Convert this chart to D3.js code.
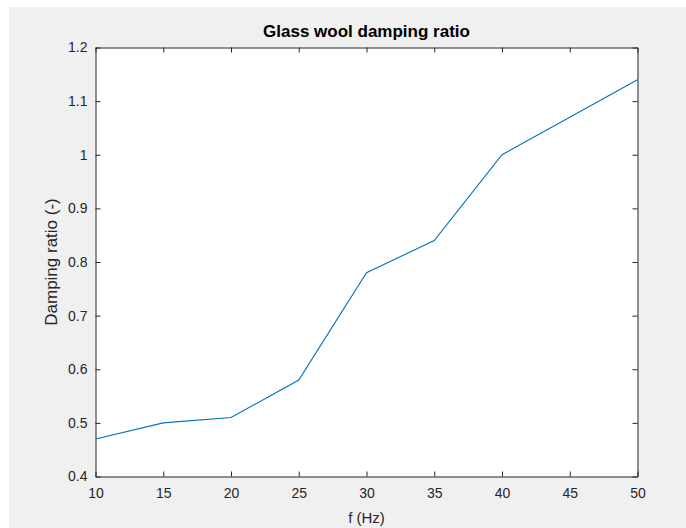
<!DOCTYPE html>
<html><head><meta charset="utf-8">
<script src="https://cdn.jsdelivr.net/npm/d3@7"></script>
<style>body{margin:0;background:#fff;}svg{display:block;}text{font-family:"Liberation Sans",Arial,sans-serif;}</style>
</head><body><svg id="c" width="686" height="528"></svg>
<script>
const freq = [10, 15, 20, 25, 30, 35, 40, 45, 50];
const damping = [0.47, 0.50, 0.51, 0.58, 0.78, 0.84, 1.00, 1.07, 1.14];
const xTicks = [10, 15, 20, 25, 30, 35, 40, 45, 50];
const yTicks = [0.4, 0.5, 0.6, 0.7, 0.8, 0.9, 1, 1.1, 1.2];
const title = "Glass wool damping ratio";
const xLabel = "f (Hz)";
const yLabel = "Damping ratio (-)";

const svg = d3.select("#c");
svg.append("rect").attr("x",9).attr("y",7).attr("width",677).attr("height",521).attr("fill","#f0f0f0");
const L=95.5,R=637.5,T=47.5,B=476.5;
const x = d3.scaleLinear().domain([10,50]).range([L,R]);
const y = d3.scaleLinear().domain([0.4,1.2]).range([B,T]);
svg.append("rect").attr("x",L).attr("y",T).attr("width",R-L).attr("height",B-T).attr("fill","#fff");

const col="#262626";
const fmt = d => String(d);
const gxB = svg.append("g").attr("transform",`translate(0,${B})`).call(d3.axisBottom(x).tickValues(xTicks).tickSizeInner(-5).tickSizeOuter(0).tickPadding(12).tickFormat(fmt));
const gxT = svg.append("g").attr("transform",`translate(0,${T})`).call(d3.axisTop(x).tickValues(xTicks).tickSizeInner(-5).tickSizeOuter(0).tickFormat(""));
const gyL = svg.append("g").attr("transform",`translate(${L},0)`).call(d3.axisLeft(y).tickValues(yTicks).tickSizeInner(-5).tickSizeOuter(0).tickPadding(8).tickFormat(fmt));
const gyR = svg.append("g").attr("transform",`translate(${R},0)`).call(d3.axisRight(y).tickValues(yTicks).tickSizeInner(-5).tickSizeOuter(0).tickFormat(""));
[gxB,gxT,gyL,gyR].forEach(g=>{
  g.selectAll("path.domain").attr("stroke",col).attr("stroke-width",1);
  g.selectAll(".tick line").attr("stroke",col);
  g.selectAll("text").attr("fill",col).style("font-size","14px").style("font-family","'Liberation Sans',Arial,sans-serif");
});
gxB.selectAll("text").attr("dy","0.71em");

svg.append("path").datum(freq.map((f,i)=>[f,damping[i]]))
  .attr("fill","none").attr("stroke","#0072BD").attr("stroke-width",1.1)
  .attr("d", d3.line().x(d=>x(d[0])).y(d=>y(d[1])));

svg.append("text").attr("x",(L+R)/2).attr("y",37).attr("text-anchor","middle")
  .attr("fill","#000").style("font-size","17px").style("font-weight","bold").text(title);
svg.append("text").attr("x",(L+R)/2).attr("y",523).attr("text-anchor","middle")
  .attr("fill",col).style("font-size","15px").text(xLabel);
svg.append("text").attr("transform",`translate(57,${(T+B)/2}) rotate(-90)`).attr("text-anchor","middle")
  .attr("fill",col).style("font-size","17px").text(yLabel);
</script></body></html>
